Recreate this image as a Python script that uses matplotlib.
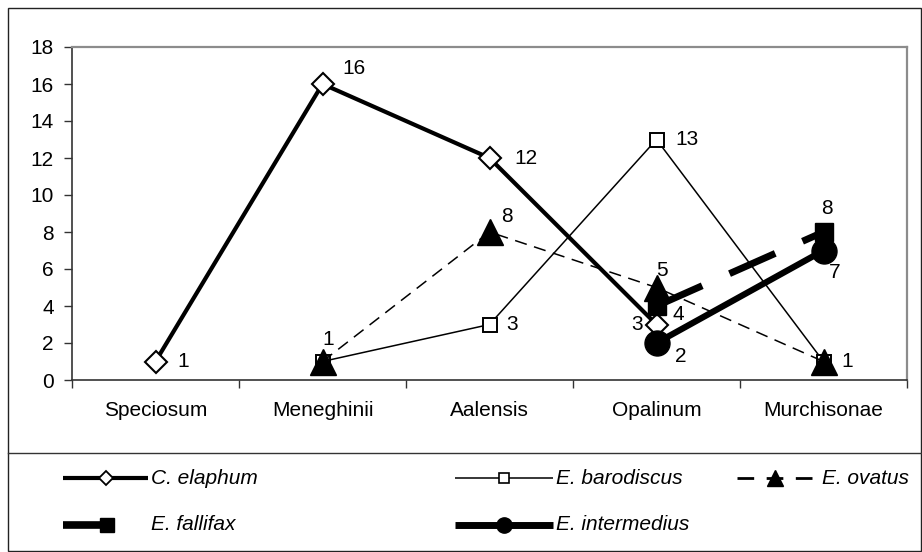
import numpy as np
import matplotlib
matplotlib.use("Agg")
import matplotlib.pyplot as plt
from matplotlib.lines import Line2D
from matplotlib.patches import Rectangle

plt.rcParams['font.family'] = ['Liberation Sans', 'DejaVu Sans']

# data
categories = ['Speciosum', 'Meneghinii', 'Aalensis', 'Opalinum', 'Murchisonae']
c_elaphum = [1, 16, 12, 3, np.nan]
e_barodiscus = [np.nan, 1, 3, 13, 1]
e_ovatus = [np.nan, 1, 8, 5, 1]
e_fallifax = [np.nan, np.nan, np.nan, 4, 8]
e_intermedius = [np.nan, np.nan, np.nan, 2, 7]
y_ticks = [0, 2, 4, 6, 8, 10, 12, 14, 16, 18]

W, H = 922, 552
FS = 15

# style of each series: (name, values, line kwargs, legend kwargs)
series = [
    ('C. elaphum', c_elaphum,
     dict(color='black', lw=3.0, marker='D', ms=11, mfc='white', mec='black', mew=1.5),
     dict(lw=3.0, marker='D', ms=7, mfc='white', mec='black', mew=1.3)),
    ('E. barodiscus', e_barodiscus,
     dict(color='black', lw=1.1, marker='s', ms=9.5, mfc='white', mec='black', mew=1.4),
     dict(lw=1.1, marker='s', ms=7, mfc='white', mec='black', mew=1.2)),
    ('E. ovatus', e_ovatus,
     dict(color='black', lw=1.1, dashes=(8, 5), marker='^', ms=19, mfc='black', mec='black'),
     dict(lw=2.0, dashes=(6, 4.5), marker='^', ms=11, mfc='black', mec='black')),
    ('E. fallifax', e_fallifax,
     dict(color='black', lw=5.0, dashes=(7.2, 4.3), marker='s', ms=13, mfc='black', mec='black'),
     dict(lw=5.5, dashes=(6.5, 5.5), marker='s', ms=10, mfc='black', mec='black')),
    ('E. intermedius', e_intermedius,
     dict(color='black', lw=4.5, marker='o', ms=18, mfc='black', mec='black'),
     dict(lw=5.0, marker='o', ms=11, mfc='black', mec='black')),
]

# label offsets (pixels) for each point's data label
label_offsets = [
    [(28, 0), (31, -16), (36, 0), (-19, 0), None],
    [None, None, (23, 0), (30, 0), None],
    [None, (6, -22), (17, -15), (5, -17), (24, 0)],
    [None, None, None, (22, 9), (3, -23)],
    [None, None, None, (24, 14), (11, 22)],
]

fig = plt.figure(figsize=(W / 100, H / 100), dpi=100)
ax = fig.add_axes([72 / W, 1 - 380 / H, (907 - 72) / W, (380 - 47) / H])

x = np.arange(len(categories))
for i, (name, vals, kw, _) in enumerate(series):
    ax.plot(x, vals, zorder=3 + i, clip_on=False, **kw)
    for j, v in enumerate(vals):
        off = label_offsets[i][j]
        if off is None or np.isnan(v):
            continue
        ax.annotate(str(v), (j, v), xytext=(off[0], -off[1]), textcoords='offset pixels',
                    ha='center', va='center', fontsize=FS, zorder=10)

ax.set_xlim(-0.5, 4.5)
ax.set_ylim(0, 18)
ax.set_yticks(y_ticks)
ax.set_xticks(x, categories)
ax.set_xticks(np.arange(-0.5, 5, 1), minor=True)
ax.tick_params(axis='x', which='major', length=0, pad=15, labelsize=FS)
ax.tick_params(axis='x', which='minor', length=6, width=1, direction='out', color='#333333')
ax.tick_params(axis='y', length=6, width=1, direction='out', pad=7, labelsize=FS, color='#333333')

for s in ['left', 'bottom']:
    ax.spines[s].set_color('#333333')
    ax.spines[s].set_linewidth(1.2)
for s in ['top', 'right']:
    ax.spines[s].set_color('#8c8c8c')
    ax.spines[s].set_linewidth(1.6)


# outer frame and legend divider
def fx(px):
    return px / W


def fy(py):
    return 1 - py / H


fig.add_artist(Rectangle((fx(8), fy(551)), fx(921) - fx(8), fy(8) - fy(551),
                         transform=fig.transFigure, fill=False, ec='#222222', lw=1.0))
fig.add_artist(Line2D([fx(8), fx(921)], [fy(453), fy(453)], transform=fig.transFigure,
                      color='#333333', lw=1.0))

# legend drawn by hand: line start, line end, text x, row y (pixels)
legend_pos = [
    (63, 148, 151, 478),
    (455, 553, 556, 478),
    (737, 812, 822, 478),
    (63, 150, 151, 525),
    (455, 553, 556, 525),
]
marker_keys = ('marker', 'ms', 'mfc', 'mec', 'mew')
for (name, _, _, lkw), (x0, x1, tx, yy) in zip(series, legend_pos):
    line_kw = {k: v for k, v in lkw.items() if k not in marker_keys}
    fig.add_artist(Line2D([fx(x0), fx(x1)], [fy(yy), fy(yy)], transform=fig.transFigure,
                          color='black', solid_capstyle='butt', dash_capstyle='butt', **line_kw))
    fig.add_artist(Line2D([fx((x0 + x1) / 2)], [fy(yy)], transform=fig.transFigure,
                          ls='none', marker=lkw['marker'], ms=lkw['ms'], mfc=lkw['mfc'],
                          mec=lkw['mec'], mew=lkw.get('mew', 1.0)))
    fig.text(fx(tx), fy(yy), name, ha='left', va='center', fontsize=FS, style='italic')

fig.savefig('out.png', dpi=100)
